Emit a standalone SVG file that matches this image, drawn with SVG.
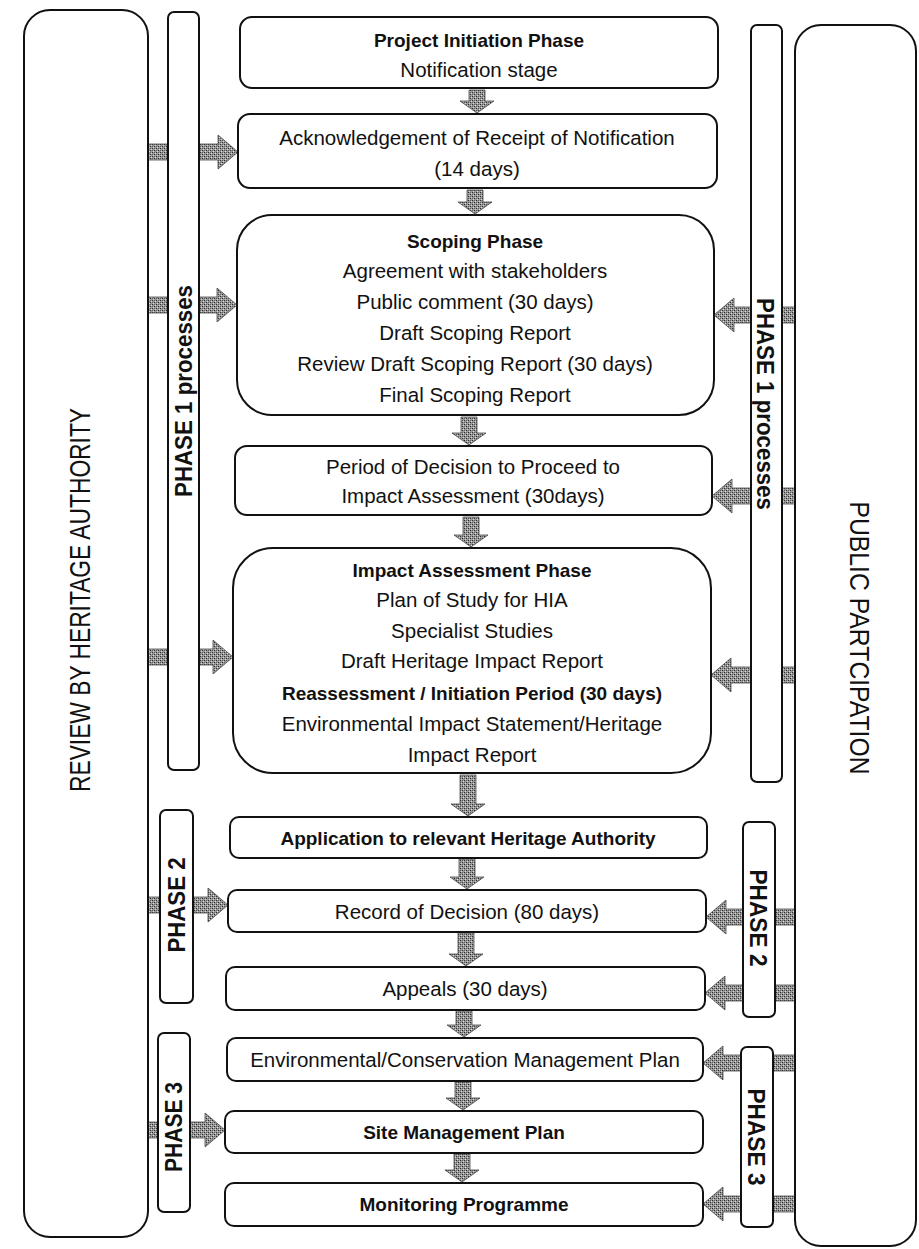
<svg xmlns="http://www.w3.org/2000/svg" width="919" height="1249" viewBox="0 0 919 1249">
  <defs>
    <pattern id="dither" width="4" height="4" patternUnits="userSpaceOnUse">
      <rect width="4" height="4" fill="#9a9a9a"/>
      <rect x="0" y="0" width="1" height="1" fill="#2e2e2e"/>
      <rect x="2" y="2" width="1" height="1" fill="#2e2e2e"/>
      <rect x="2" y="0" width="1" height="1" fill="#5e5e5e"/>
      <rect x="0" y="2" width="1" height="1" fill="#5e5e5e"/>
      <rect x="1" y="3" width="1" height="1" fill="#d8d8d8"/>
      <rect x="3" y="1" width="1" height="1" fill="#d8d8d8"/>
    </pattern>
    <style>
      .box { fill: #ffffff; stroke: #111111; stroke-width: 2; }
      .t { font-family: "Liberation Sans", Arial, sans-serif; font-size: 20.5px; fill: #111111; text-anchor: middle; }
      .b { font-weight: bold; font-size: 19px; }
      .ph { font-family: "Liberation Sans", Arial, sans-serif; font-weight: bold; font-size: 24px; fill: #111111; text-anchor: middle; }
      .side { font-family: "Liberation Sans", Arial, sans-serif; fill: #111111; text-anchor: middle; }
      .arr { fill: url(#dither); stroke: #4a4a4a; stroke-width: 0.8; stroke-linejoin: miter; }
    </style>
  </defs>
  <rect width="919" height="1249" fill="#ffffff"/>

  <g id="connectors">
    <!-- left side arrows (Review by Heritage Authority -> boxes) -->
    <polygon class="arr" points="148,144 218,144 218,135 238,152 218,169 218,160 148,160"/>
    <polygon class="arr" points="148,297 217,297 217,288 237,305 217,322 217,313 148,313"/>
    <polygon class="arr" points="148,649 213,649 213,640 233,657 213,674 213,665 148,665"/>
    <polygon class="arr" points="148,897 208,897 208,888 228,905 208,922 208,913 148,913"/>
    <polygon class="arr" points="148,1122 205,1122 205,1113 225,1130 205,1147 205,1138 148,1138"/>
    <!-- right side arrows (Public participation -> boxes) -->
    <polygon class="arr" points="795,307 734,307 734,298 714,315 734,332 734,323 795,323"/>
    <polygon class="arr" points="795,488 732,488 732,479 712,496 732,513 732,504 795,504"/>
    <polygon class="arr" points="795,667 731,667 731,658 711,675 731,692 731,683 795,683"/>
    <polygon class="arr" points="795,909 726,909 726,900 706,917 726,934 726,925 795,925"/>
    <polygon class="arr" points="795,985 725,985 725,976 705,993 725,1010 725,1001 795,1001"/>
    <polygon class="arr" points="795,1055 723,1055 723,1046 703,1063 723,1080 723,1071 795,1071"/>
    <polygon class="arr" points="795,1196 723,1196 723,1187 703,1204 723,1221 723,1212 795,1212"/>
    <!-- down arrows between stages -->
    <polygon class="arr" points="469,90 485,90 485,101 494,101 477,113 460,101 469,101"/>
    <polygon class="arr" points="467,190 483,190 483,202 492,202 475,214 458,202 467,202"/>
    <polygon class="arr" points="461,417 477,417 477,433 486,433 469,445 452,433 461,433"/>
    <polygon class="arr" points="463,517 479,517 479,535 488,535 471,547 454,535 463,535"/>
    <polygon class="arr" points="460,775 476,775 476,804 485,804 468,816 451,804 460,804"/>
    <polygon class="arr" points="459,859 475,859 475,877 484,877 467,889 450,877 459,877"/>
    <polygon class="arr" points="458,933 474,933 474,954 483,954 466,966 449,954 458,954"/>
    <polygon class="arr" points="456,1011 472,1011 472,1025 481,1025 464,1037 447,1025 456,1025"/>
    <polygon class="arr" points="455,1082 471,1082 471,1098 480,1098 463,1110 446,1098 455,1098"/>
    <polygon class="arr" points="454,1154 470,1154 470,1170 479,1170 462,1182 445,1170 454,1170"/>
  </g>

  <g id="review-heritage-authority">
    <rect class="box" x="24" y="10" width="124" height="1227" rx="26"/>
    <text class="side" font-size="30" textLength="384" lengthAdjust="spacingAndGlyphs" transform="translate(90,600) rotate(-90)">REVIEW BY HERITAGE AUTHORITY</text>
  </g>

  <g id="public-participation">
    <rect class="box" x="795" y="25" width="121" height="1221" rx="26"/>
    <text class="side" font-size="28" textLength="273" lengthAdjust="spacingAndGlyphs" transform="translate(850,638) rotate(90)">PUBLIC PARTCIPATION</text>
  </g>

  <g id="phase1-left">
    <rect class="box" x="168" y="12" width="31" height="758" rx="6"/>
    <text class="ph" textLength="212" lengthAdjust="spacingAndGlyphs" transform="translate(192,391) rotate(-90)">PHASE 1 processes</text>
  </g>
  <g id="phase2-left">
    <rect class="box" x="160" y="810" width="33" height="193" rx="6"/>
    <text class="ph" textLength="95" lengthAdjust="spacingAndGlyphs" transform="translate(185,905) rotate(-90)">PHASE 2</text>
  </g>
  <g id="phase3-left">
    <rect class="box" x="158" y="1033" width="32" height="179" rx="6"/>
    <text class="ph" textLength="90" lengthAdjust="spacingAndGlyphs" transform="translate(182,1127) rotate(-90)">PHASE 3</text>
  </g>

  <g id="phase1-right">
    <rect class="box" x="751" y="25" width="31" height="757" rx="6"/>
    <text class="ph" textLength="212" lengthAdjust="spacingAndGlyphs" transform="translate(757,404) rotate(90)">PHASE 1 processes</text>
  </g>
  <g id="phase2-right">
    <rect class="box" x="743" y="822" width="32" height="195" rx="6"/>
    <text class="ph" textLength="97" lengthAdjust="spacingAndGlyphs" transform="translate(750,918) rotate(90)">PHASE 2</text>
  </g>
  <g id="phase3-right">
    <rect class="box" x="741" y="1047" width="32" height="180" rx="6"/>
    <text class="ph" textLength="97" lengthAdjust="spacingAndGlyphs" transform="translate(748,1137) rotate(90)">PHASE 3</text>
  </g>

  <g id="project-initiation">
    <rect class="box" x="240" y="17" width="478" height="71" rx="12"/>
    <text class="t b" x="479" y="47">Project Initiation Phase</text>
    <text class="t" x="479" y="77">Notification stage</text>
  </g>

  <g id="acknowledgement">
    <rect class="box" x="238" y="114" width="479" height="74" rx="12"/>
    <text class="t" x="477" y="145">Acknowledgement of Receipt of Notification</text>
    <text class="t" x="477" y="176">(14 days)</text>
  </g>

  <g id="scoping-phase">
    <rect class="box" x="237" y="215" width="477" height="200" rx="35"/>
    <text class="t b" x="475" y="248">Scoping Phase</text>
    <text class="t" x="475" y="278">Agreement with stakeholders</text>
    <text class="t" x="475" y="309">Public comment (30 days)</text>
    <text class="t" x="475" y="340">Draft Scoping Report</text>
    <text class="t" x="475" y="371">Review Draft Scoping Report (30 days)</text>
    <text class="t" x="475" y="402">Final Scoping Report</text>
  </g>

  <g id="decision-period">
    <rect class="box" x="235" y="446" width="477" height="69" rx="12"/>
    <text class="t" x="473" y="474">Period of Decision to Proceed to</text>
    <text class="t" x="473" y="503">Impact Assessment (30days)</text>
  </g>

  <g id="impact-assessment">
    <rect class="box" x="233" y="548" width="478" height="225" rx="40"/>
    <text class="t b" x="472" y="577">Impact Assessment Phase</text>
    <text class="t" x="472" y="607">Plan of Study for HIA</text>
    <text class="t" x="472" y="638">Specialist Studies</text>
    <text class="t" x="472" y="668">Draft Heritage Impact Report</text>
    <text class="t b" x="472" y="700">Reassessment / Initiation Period (30 days)</text>
    <text class="t" x="472" y="731">Environmental Impact Statement/Heritage</text>
    <text class="t" x="472" y="762">Impact Report</text>
  </g>

  <g id="application">
    <rect class="box" x="230" y="817" width="477" height="41" rx="9"/>
    <text class="t b" x="468" y="845">Application to relevant Heritage Authority</text>
  </g>

  <g id="record-of-decision">
    <rect class="box" x="228" y="890" width="478" height="42" rx="9"/>
    <text class="t" x="467" y="919">Record of Decision (80 days)</text>
  </g>

  <g id="appeals">
    <rect class="box" x="226" y="967" width="479" height="43" rx="9"/>
    <text class="t" x="465" y="996">Appeals (30 days)</text>
  </g>

  <g id="management-plan">
    <rect class="box" x="227" y="1038" width="476" height="43" rx="9"/>
    <text class="t" x="465" y="1067">Environmental/Conservation Management Plan</text>
  </g>

  <g id="site-management-plan">
    <rect class="box" x="225" y="1111" width="478" height="42" rx="9"/>
    <text class="t b" x="464" y="1139">Site Management Plan</text>
  </g>

  <g id="monitoring-programme">
    <rect class="box" x="225" y="1183" width="478" height="43" rx="9"/>
    <text class="t b" x="464" y="1211">Monitoring Programme</text>
  </g>
</svg>
